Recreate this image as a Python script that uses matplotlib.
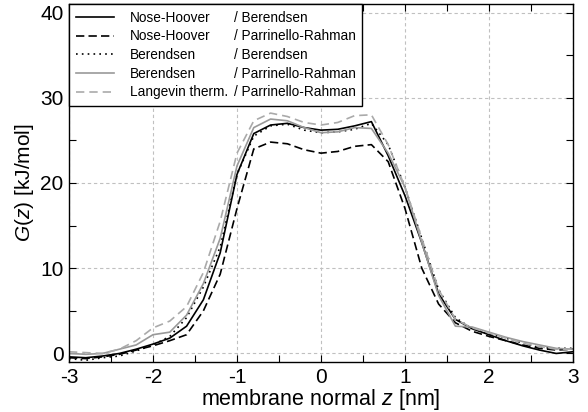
import matplotlib
matplotlib.use("Agg")
import matplotlib.pyplot as plt
import matplotlib.ticker as mticker
from matplotlib.lines import Line2D
import numpy as np

plt.rcParams['font.family'] = ['Liberation Sans', 'DejaVu Sans']
plt.rcParams['mathtext.fontset'] = 'custom'
plt.rcParams['mathtext.rm'] = 'Liberation Sans'
plt.rcParams['mathtext.it'] = 'Liberation Sans:italic'
plt.rcParams['axes.unicode_minus'] = False

# membrane normal z [nm]
z = [-3.0, -2.8, -2.6, -2.4, -2.2, -2.0, -1.8, -1.6, -1.4, -1.2, -1.0,
     -0.8, -0.6, -0.4, -0.2, 0.0, 0.2, 0.4, 0.6, 0.8, 1.0,
     1.2, 1.4, 1.6, 1.8, 2.0, 2.2, 2.4, 2.6, 2.8, 3.0]

# G(z) [kJ/mol]
nh_ber = [-0.4, -0.5, -0.3, 0.0, 0.5, 1.1, 1.8, 3.2, 6.3, 11.8, 21.0,
          25.8, 26.8, 27.0, 26.5, 26.2, 26.3, 26.7, 27.2, 23.2, 18.5,
          13.0, 7.0, 4.0, 2.9, 2.2, 1.5, 0.9, 0.4, 0.0, 0.2]
nh_pr = [-0.5, -0.6, -0.4, -0.1, 0.4, 0.9, 1.5, 2.2, 5.0, 9.3, 17.0,
         24.0, 24.8, 24.6, 23.9, 23.5, 23.7, 24.3, 24.5, 22.5, 17.0,
         10.0, 5.8, 3.6, 2.6, 2.0, 1.5, 1.0, 0.6, 0.4, 0.5]
ber_ber = [-0.6, -0.8, -0.5, -0.3, 0.3, 1.0, 2.0, 4.2, 7.8, 12.5, 21.0,
           25.5, 26.7, 26.9, 26.2, 25.9, 26.0, 26.3, 27.0, 24.5, 19.5,
           13.5, 7.5, 4.2, 2.9, 2.3, 1.8, 1.2, 0.7, 0.6, 0.6]
ber_pr = [0.0, -0.1, 0.0, 0.5, 1.0, 2.2, 2.5, 4.5, 8.2, 13.5, 22.0,
          26.5, 27.5, 27.3, 26.5, 25.9, 26.0, 26.5, 26.4, 23.5, 19.5,
          13.0, 6.8, 3.2, 3.1, 2.5, 1.9, 1.4, 1.0, 0.6, 0.5]
lang_pr = [0.2, 0.1, 0.0, 0.5, 1.5, 3.0, 3.8, 5.5, 9.5, 15.5, 23.5,
           27.3, 28.2, 27.8, 27.1, 26.8, 27.1, 27.9, 28.0, 24.5, 19.5,
           13.5, 7.5, 4.0, 3.0, 2.4, 1.8, 1.2, 0.8, 0.5, 0.5]

names1 = ['Nose-Hoover', 'Nose-Hoover', 'Berendsen', 'Berendsen', 'Langevin therm.']
names2 = ['/ Berendsen', '/ Parrinello-Rahman', '/ Berendsen', '/ Parrinello-Rahman', '/ Parrinello-Rahman']

fig = plt.figure(figsize=(5.88, 4.12), dpi=100)
ax = fig.add_axes([0.1173, 0.1214, 0.8572, 0.8689])

l1, = ax.plot(z, nh_ber, color='black', lw=1.2, ls='-')
l2, = ax.plot(z, nh_pr, color='black', lw=1.2, ls=(0, (5, 2.5)))
l3, = ax.plot(z, ber_ber, color='black', lw=1.2, ls=(0, (1, 2.5)))
l4, = ax.plot(z, ber_pr, color='#999999', lw=1.2, ls='-')
l5, = ax.plot(z, lang_pr, color='#aaaaaa', lw=1.2, ls=(0, (5, 3)))

ax.set_xlim(-3, 3)
ax.set_ylim(-1, 41)
ax.xaxis.set_major_locator(mticker.MultipleLocator(1))
ax.xaxis.set_minor_locator(mticker.MultipleLocator(0.5))
ax.yaxis.set_major_locator(mticker.MultipleLocator(10))
ax.yaxis.set_minor_locator(mticker.MultipleLocator(5))
ax.tick_params(which='both', direction='in', top=True, right=True, length=5, width=0.8)
ax.tick_params(labelsize=15, pad=4)
ax.grid(True, which='major', color='#c0c0c0', ls=(0, (3, 2.5)), lw=0.8)
for s in ax.spines.values():
    s.set_linewidth(1.0)

ax.set_xlabel('membrane normal $z$ [nm]', fontsize=15.5, labelpad=0)
ax.set_ylabel('$G$($z$) [kJ/mol]', fontsize=15, labelpad=3)

blank = [Line2D([], [], ls='none') for _ in range(5)]
leg = ax.legend([l1, l2, l3, l4, l5] + blank, names1 + names2, ncol=2,
                loc='upper left', borderaxespad=0, fontsize=9.8,
                handlelength=2.8, handletextpad=1.2, columnspacing=-3.6,
                labelspacing=0.34, borderpad=0.5, fancybox=False,
                framealpha=1, edgecolor='black')
leg.get_frame().set_linewidth(1.0)

fig.savefig('out.png', dpi=100)
